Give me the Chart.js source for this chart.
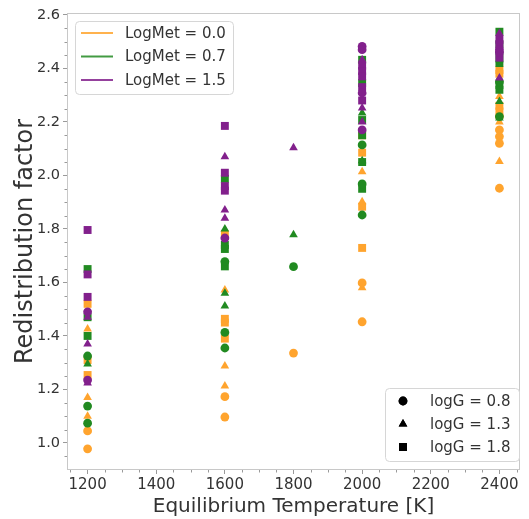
<!DOCTYPE html>
<html>
<head>
<meta charset="utf-8">
<script src="https://cdn.jsdelivr.net/npm/chart.js@4.4.1/dist/chart.umd.min.js"></script>
<style>
  html, body { margin: 0; padding: 0; background: #fff; }
  #wrap { width: 529px; height: 519px; }
</style>
</head>
<body>
<div id="wrap"><canvas id="chart" width="529" height="519"></canvas></div>
<script>
// Ticks
const xTicks = [1200, 1400, 1600, 1800, 2000, 2200, 2400];
const yTicks = [1.0, 1.2, 1.4, 1.6, 1.8, 2.0, 2.2, 2.4, 2.6];

// LogMet = 0.0 (orange)
const met00_g08 = [[1200, 1.045], [1200, 0.978], [1600, 1.173], [1600, 1.097], [1800, 1.336],
    [2000, 1.598], [2000, 1.453], [2400, 2.22], [2400, 2.17], [2400, 2.145], [2400, 2.12], [2400, 1.952]];
const met00_g13 = [[1200, 1.426], [1200, 1.17], [1200, 1.10], [1600, 1.572], [1600, 1.288], [1600, 1.213],
    [2000, 2.014], [2000, 1.902], [2000, 1.58], [2400, 2.295], [2400, 2.20], [2400, 2.052]];
const met00_g18 = [[1200, 1.52], [1200, 1.31], [1200, 1.254], [1600, 1.78], [1600, 1.464], [1600, 1.45], [1600, 1.39],
    [2000, 2.15], [2000, 2.085], [2000, 1.883], [2000, 1.729], [2400, 2.394], [2400, 2.38], [2400, 2.26], [2400, 2.239]];

// LogMet = 0.7 (green)
const met07_g08 = [[1200, 1.325], [1200, 1.138], [1200, 1.074], [1600, 1.678], [1600, 1.413], [1600, 1.355],
    [1800, 1.659], [2000, 2.114], [2000, 1.968], [2000, 1.852], [2400, 2.35], [2400, 2.22]];
const met07_g13 = [[1200, 1.295], [1600, 1.80], [1600, 1.56], [1600, 1.512], [1800, 1.778],
    [2000, 2.233], [2000, 2.055], [2400, 2.432], [2400, 2.276], [2400, 2.215]];
const met07_g18 = [[1200, 1.65], [1200, 1.47], [1200, 1.40], [1600, 1.987], [1600, 1.74], [1600, 1.725], [1600, 1.66],
    [2000, 2.432], [2000, 2.345], [2000, 2.207], [2000, 2.15], [2000, 2.05], [2000, 1.95],
    [2400, 2.537], [2400, 2.49], [2400, 2.45], [2400, 2.42], [2400, 2.338], [2400, 2.32]];

// LogMet = 1.5 (purple)
const met15_g08 = [[1200, 1.49], [1200, 1.235], [1600, 1.766], [2000, 2.482], [2000, 2.47], [2000, 2.308], [2000, 2.17],
    [2400, 2.47], [2400, 2.46]];
const met15_g13 = [[1200, 1.47], [1200, 1.37], [1200, 1.224], [1600, 2.07], [1600, 1.871], [1600, 1.84], [1800, 2.103],
    [2000, 2.432], [2000, 2.252], [2000, 2.20], [2400, 2.53], [2400, 2.364]];
const met15_g18 = [[1200, 1.796], [1200, 1.63], [1200, 1.546], [1600, 2.185], [1600, 2.01], [1600, 1.96], [1600, 1.943],
    [2000, 2.41], [2000, 2.39], [2000, 2.37], [2000, 2.33], [2000, 2.28], [2400, 2.507], [2400, 2.49], [2400, 2.44]];

const metLabels = ['LogMet = 0.0', 'LogMet = 0.7', 'LogMet = 1.5'];
const gLabels = ['logG = 0.8', 'logG = 1.3', 'logG = 1.8'];

const COLORS = ['#ffa42e', '#218a21', '#82208c'];
const SHAPES = ['circle', 'triangle', 'rect'];
const RADII = [4.4, 5.0, 5.6];
const FONT = "'DejaVu Sans', sans-serif";
const TEXT = '#333333';

function makeSet(points, metIdx, gIdx) {
    return {
        data: points.map(p => ({ x: p[0], y: p[1] })),
        backgroundColor: COLORS[metIdx],
        borderWidth: 0,
        pointStyle: SHAPES[gIdx],
        pointRadius: RADII[gIdx],
        pointHoverRadius: RADII[gIdx]
    };
}

// first dataset is drawn on top
const datasets = [
    makeSet(met15_g08, 2, 0), makeSet(met15_g13, 2, 1), makeSet(met15_g18, 2, 2),
    makeSet(met07_g08, 1, 0), makeSet(met07_g13, 1, 1), makeSet(met07_g18, 1, 2),
    makeSet(met00_g08, 0, 0), makeSet(met00_g13, 0, 1), makeSet(met00_g18, 0, 2)
];

function roundRect(ctx, x, y, w, h, r) {
    ctx.beginPath();
    ctx.moveTo(x + r, y);
    ctx.arcTo(x + w, y, x + w, y + h, r);
    ctx.arcTo(x + w, y + h, x, y + h, r);
    ctx.arcTo(x, y + h, x, y, r);
    ctx.arcTo(x, y, x + w, y, r);
    ctx.closePath();
}

// frame, minor ticks and the two legends (matplotlib look)
const decorations = {
    id: 'decorations',
    afterDraw(chart) {
        const ctx = chart.ctx;
        const a = chart.chartArea;
        const xs = chart.scales.x, ys = chart.scales.y;
        ctx.save();
        ctx.strokeStyle = '#c8c8c8';
        ctx.lineWidth = 1;
        ctx.strokeRect(a.left + 0.5, a.top + 0.5, a.right - a.left - 1, a.bottom - a.top - 1);

        // minor ticks
        ctx.strokeStyle = '#9a9a9a';
        ctx.beginPath();
        for (let t = 1150; t <= 2450; t += 50) {
            if (t % 200 === 0) continue;
            const px = Math.round(xs.getPixelForValue(t)) + 0.5;
            ctx.moveTo(px, a.bottom);
            ctx.lineTo(px, a.bottom + 2.5);
        }
        for (let i = 18; i <= 52; i++) {
            if (i % 4 === 0) continue;
            const py = Math.round(ys.getPixelForValue(i * 0.05)) + 0.5;
            if (py < a.top || py > a.bottom) continue;
            ctx.moveTo(a.left, py);
            ctx.lineTo(a.left - 2.5, py);
        }
        ctx.stroke();

        // legend: metallicity
        ctx.font = '15px ' + FONT;
        ctx.textBaseline = 'middle';
        ctx.textAlign = 'left';
        ctx.fillStyle = 'rgba(255,255,255,0.85)';
        roundRect(ctx, 75.5, 21.5, 158, 73, 4);
        ctx.fill();
        ctx.strokeStyle = '#d6d6d6';
        ctx.stroke();
        metLabels.forEach((lab, i) => {
            const y = 33 + i * 23.5;
            ctx.strokeStyle = COLORS[i];
            ctx.globalAlpha = 0.85;
            ctx.lineWidth = 2;
            ctx.beginPath();
            ctx.moveTo(81, y);
            ctx.lineTo(113, y);
            ctx.stroke();
            ctx.globalAlpha = 1;
            ctx.fillStyle = TEXT;
            ctx.fillText(lab, 125, y + 1);
        });

        // legend: surface gravity
        ctx.lineWidth = 1;
        ctx.fillStyle = 'rgba(255,255,255,0.85)';
        roundRect(ctx, 385.5, 388.5, 134, 73, 4);
        ctx.fill();
        ctx.strokeStyle = '#d6d6d6';
        ctx.stroke();
        gLabels.forEach((lab, i) => {
            const y = 401 + i * 23;
            ctx.fillStyle = '#000';
            Chart.helpers.drawPoint(ctx, { pointStyle: SHAPES[i], radius: RADII[i], borderWidth: 0 }, 403, y);
            ctx.fill();
            ctx.fillStyle = TEXT;
            ctx.fillText(lab, 430, y + 1);
        });
        ctx.restore();
    }
};

new Chart(document.getElementById('chart'), {
    type: 'scatter',
    data: { datasets: datasets },
    options: {
        responsive: false,
        animation: false,
        layout: { padding: { top: 13, right: 9, left: 0, bottom: 0 } },
        plugins: { legend: { display: false }, tooltip: { enabled: false } },
        scales: {
            x: {
                type: 'linear',
                min: 1140,
                max: 2460,
                afterBuildTicks: s => { s.ticks = xTicks.map(v => ({ value: v })); },
                afterFit: s => { s.height = 49; },
                grid: { drawOnChartArea: false, tickLength: 4, tickColor: '#9a9a9a' },
                border: { display: false },
                ticks: { color: TEXT, font: { family: FONT, size: 15 }, padding: 2, maxRotation: 0,
                         callback: v => String(v) },
                title: { display: true, text: 'Equilibrium Temperature [K]', color: TEXT,
                         font: { family: FONT, size: 20 }, padding: { top: 0, bottom: 0 } }
            },
            y: {
                type: 'linear',
                min: 0.899,
                max: 2.607,
                afterBuildTicks: s => { s.ticks = yTicks.map(v => ({ value: v })); },
                afterFit: s => { s.width = 67; },
                grid: { drawOnChartArea: false, tickLength: 4, tickColor: '#9a9a9a' },
                border: { display: false },
                ticks: { color: TEXT, font: { family: FONT, size: 14.5 }, padding: 3,
                         callback: v => Number(v).toFixed(1) },
                title: { display: true, text: 'Redistribution factor', color: TEXT,
                         font: { family: FONT, size: 24 }, padding: { top: 11, bottom: 0 } }
            }
        }
    },
    plugins: [decorations]
});
</script>
</body>
</html>
